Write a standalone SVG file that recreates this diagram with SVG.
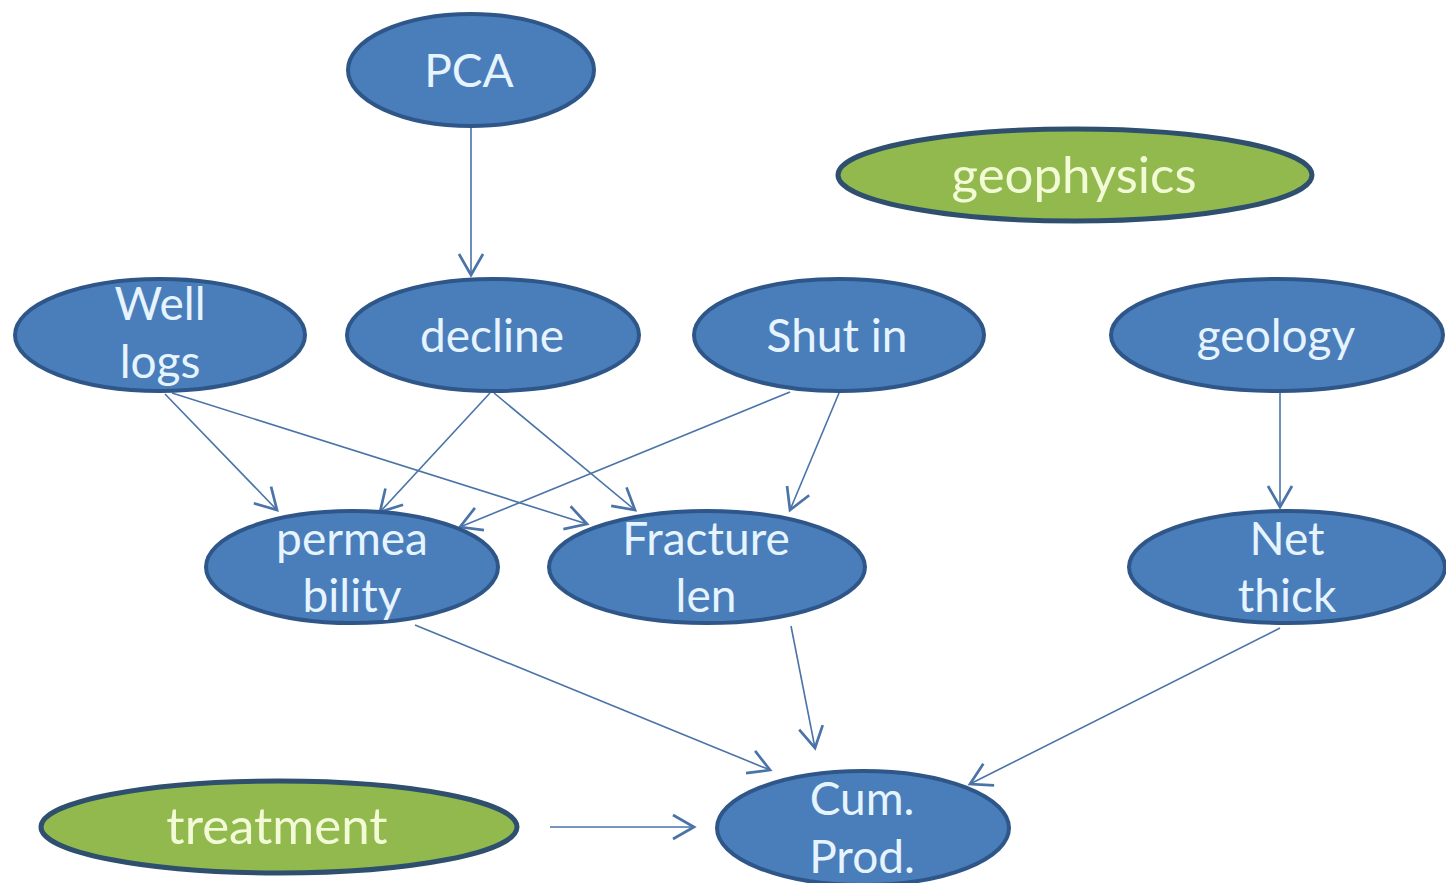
<svg xmlns="http://www.w3.org/2000/svg" width="1446" height="883" viewBox="0 0 1446 883">
<style>
.blue{fill:#4a7ebb;stroke:#2f5688;stroke-width:4}
.green{fill:#92b94e;stroke:#2f4f6e;stroke-width:5}
.t{font-family:Lato,"Open Sans","Noto Sans",sans-serif;font-size:46px;fill:#e6f4ff;text-anchor:middle}
.tg{font-family:Lato,"Open Sans","Noto Sans",sans-serif;font-size:51px;fill:#f2fbd6;text-anchor:middle}
.c line{stroke:#4a73a8;stroke-width:1.6;fill:none;marker-end:url(#arr)}
</style>
<defs>
<marker id="arr" markerUnits="userSpaceOnUse" markerWidth="30" markerHeight="30" refX="16" refY="10" orient="auto" viewBox="0 0 20 20">
<path d="M2,2 L16,10 L2,18" fill="none" stroke="#4a73a8" stroke-width="1.8"/>
</marker>
</defs>
<rect width="1446" height="883" fill="#ffffff"/>
<g class="c" id="connectors">
<line x1="471" y1="127" x2="471" y2="275"/>
<line x1="165" y1="394" x2="277" y2="510"/>
<line x1="172" y1="393" x2="587" y2="524"/>
<line x1="490" y1="393" x2="380" y2="512"/>
<line x1="494" y1="393" x2="635" y2="510"/>
<line x1="790" y1="392" x2="460" y2="527"/>
<line x1="839" y1="393" x2="790" y2="510"/>
<line x1="1280" y1="393" x2="1280" y2="507"/>
<line x1="415" y1="625" x2="770" y2="770"/>
<line x1="791" y1="626" x2="815" y2="748"/>
<line x1="1280" y1="628" x2="970" y2="784"/>
<line x1="550" y1="827" x2="694" y2="827"/>
</g>
<g id="pca"><ellipse class="blue" cx="471" cy="70" rx="123" ry="56"/><text class="t" x="469" y="87">PCA</text></g>
<g id="geophysics"><ellipse class="green" cx="1075" cy="175" rx="237" ry="46"/><text class="tg" x="1074" y="193">geophysics</text></g>
<g id="welllogs"><ellipse class="blue" cx="160" cy="335" rx="145" ry="56"/><text class="t" x="160" y="320">Well</text><text class="t" x="160" y="378">logs</text></g>
<g id="decline"><ellipse class="blue" cx="493" cy="335" rx="146" ry="56"/><text class="t" x="492" y="352">decline</text></g>
<g id="shutin"><ellipse class="blue" cx="839" cy="335" rx="145" ry="56"/><text class="t" x="837" y="352">Shut in</text></g>
<g id="geology"><ellipse class="blue" cx="1277" cy="335" rx="166" ry="56"/><text class="t" x="1276" y="352">geology</text></g>
<g id="permeability"><ellipse class="blue" cx="352" cy="567" rx="146" ry="56"/><text class="t" x="352" y="555">permea</text><text class="t" x="352" y="612">bility</text></g>
<g id="fracturelen"><ellipse class="blue" cx="707" cy="567" rx="158" ry="56"/><text class="t" x="706" y="555">Fracture</text><text class="t" x="706" y="612">len</text></g>
<g id="netthick"><ellipse class="blue" cx="1287" cy="567" rx="158" ry="56"/><text class="t" x="1287" y="555">Net</text><text class="t" x="1287" y="612">thick</text></g>
<g id="cumprod"><ellipse class="blue" cx="863" cy="828" rx="146" ry="57"/><text class="t" x="862" y="815">Cum.</text><text class="t" x="862" y="873">Prod.</text></g>
<g id="treatment"><ellipse class="green" cx="279" cy="827" rx="238" ry="46"/><text class="tg" x="277" y="844">treatment</text></g>
</svg>
